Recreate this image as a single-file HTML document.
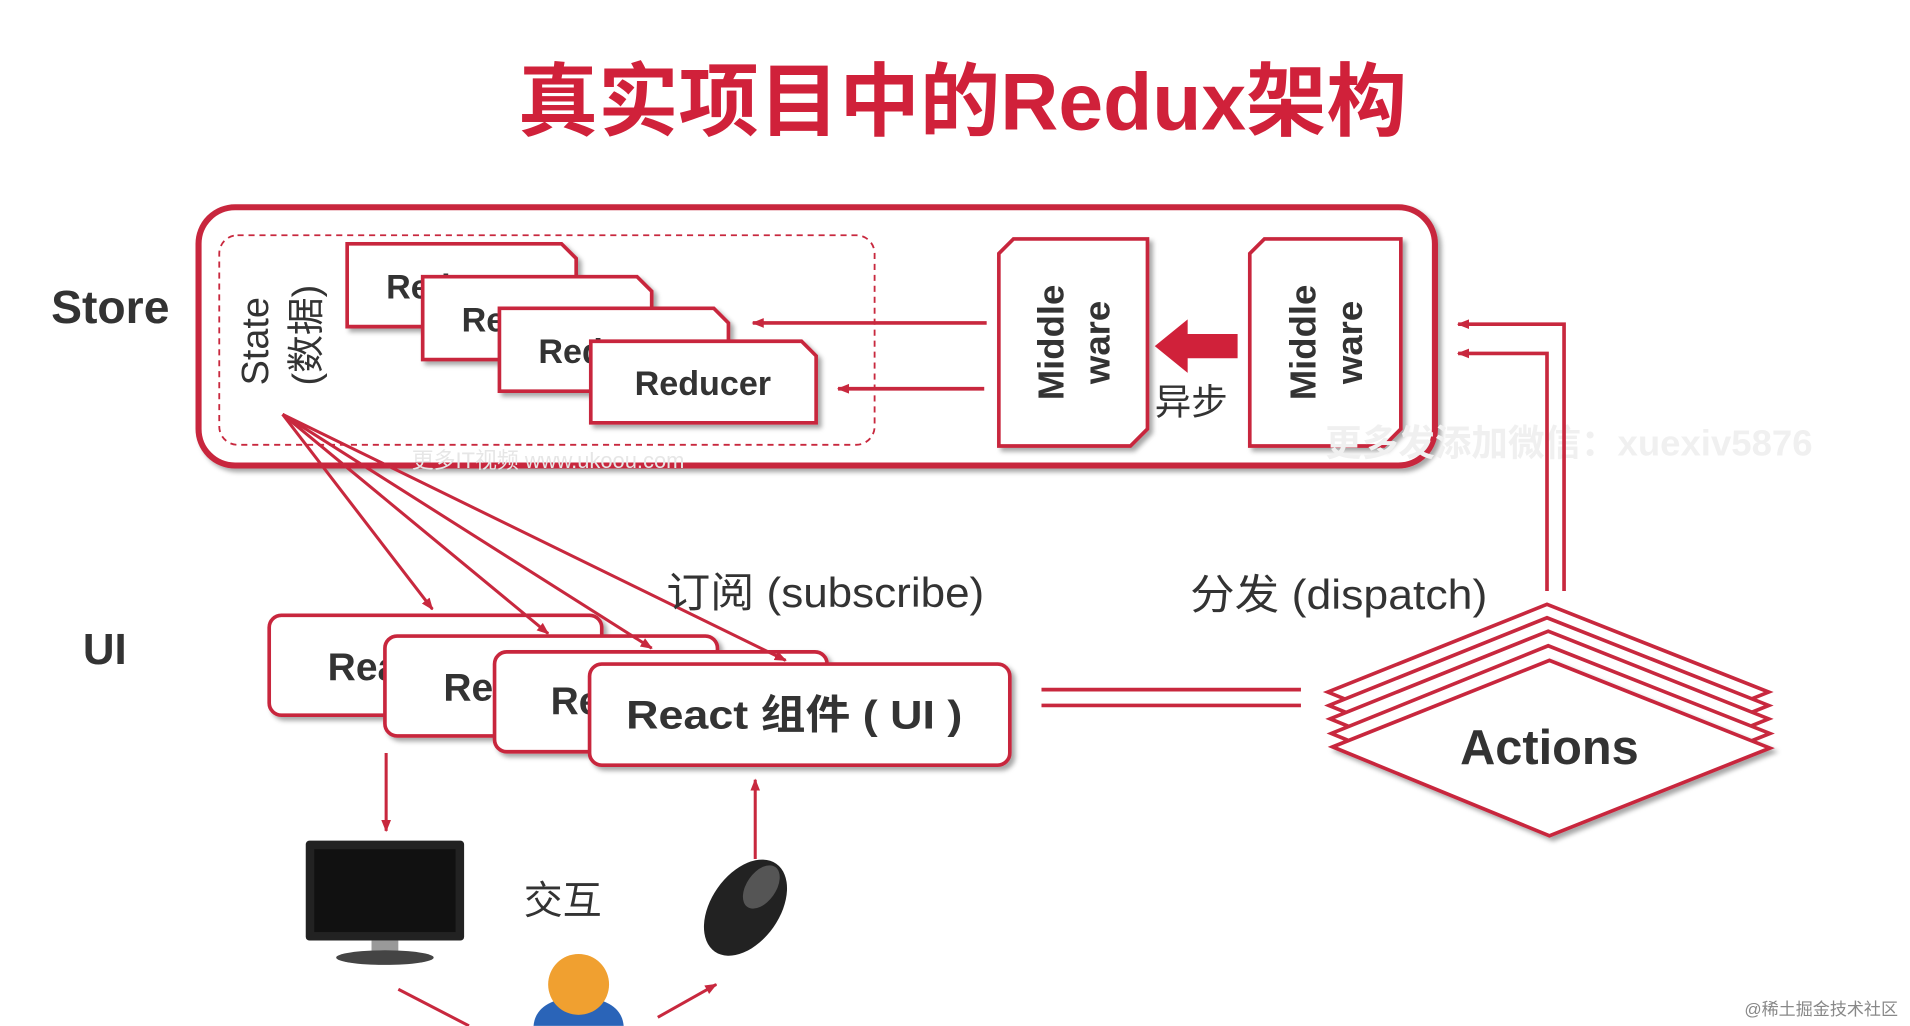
<!DOCTYPE html>
<html><head><meta charset="utf-8"><style>
html,body{margin:0;padding:0;background:#fff;}
svg{display:block}
text{font-family:"Liberation Sans","Noto Sans CJK SC",sans-serif;}
</style></head><body>
<svg width="1910" height="1026" viewBox="0 0 1568 842" xmlns="http://www.w3.org/2000/svg">
<defs>
<marker id="ah" markerWidth="10" markerHeight="10" refX="9" refY="5" orient="auto" markerUnits="userSpaceOnUse"><path d="M0,1 L10,5 L0,9 z" fill="#c8283e"/></marker>
<filter id="sh" x="-10%" y="-10%" width="130%" height="130%"><feDropShadow dx="3" dy="3" stdDeviation="2" flood-color="#000" flood-opacity="0.35"/></filter>
</defs>
<text x="790" y="106" text-anchor="middle" font-size="66" font-weight="bold" fill="#d0213a" textLength="730" lengthAdjust="spacingAndGlyphs">真实项目中的Redux架构</text>

<text x="42" y="265" font-size="38" font-weight="bold" fill="#333">Store</text>
<rect x="163" y="170" width="1015" height="212" rx="30" fill="#fff" stroke="#c8283e" stroke-width="5" filter="url(#sh)"/>
<rect x="180" y="193" width="538" height="172" rx="15" fill="none" stroke="#c8283e" stroke-width="1.5" stroke-dasharray="5,4"/>
<text transform="translate(220,280) rotate(-90)" text-anchor="middle" font-size="31" fill="#333">State</text>
<text transform="translate(262,275) rotate(-90)" text-anchor="middle" font-size="31" fill="#333">(数据)</text>

<path d="M285,200 H461 L473,212 V268 H285 Z" stroke="#c8283e" stroke-width="3" fill="#fff" filter="url(#sh)"/>
<text x="317" y="245" font-size="28" font-weight="bold" fill="#333">Reducer</text>
<path d="M347,227 H523 L535,239 V295 H347 Z" stroke="#c8283e" stroke-width="3" fill="#fff" filter="url(#sh)"/>
<text x="379" y="272" font-size="28" font-weight="bold" fill="#333">Reducer</text>
<path d="M410,253 H586 L598,265 V321 H410 Z" stroke="#c8283e" stroke-width="3" fill="#fff" filter="url(#sh)"/>
<text x="442" y="298" font-size="28" font-weight="bold" fill="#333">Reducer</text>
<path d="M485,280 H658 L670,292 V347 H485 Z" stroke="#c8283e" stroke-width="3" fill="#fff" filter="url(#sh)"/>
<text x="577" y="324" text-anchor="middle" font-size="28" font-weight="bold" fill="#333">Reducer</text>

<line x1="810" y1="265" x2="618" y2="265" stroke="#c8283e" stroke-width="3" marker-end="url(#ah)"/>
<line x1="808" y1="319" x2="688" y2="319" stroke="#c8283e" stroke-width="3" marker-end="url(#ah)"/>

<path d="M832,196 H942 V352 L928,366 H820 V208 Z" stroke="#c8283e" stroke-width="3" fill="#fff" filter="url(#sh)"/>
<text transform="translate(873,281) rotate(-90)" text-anchor="middle" font-size="30" font-weight="bold" fill="#333">Middle</text>
<text transform="translate(911,281) rotate(-90)" text-anchor="middle" font-size="30" font-weight="bold" fill="#333">ware</text>
<path d="M1038,196 H1150 V352 L1136,366 H1026 V208 Z" stroke="#c8283e" stroke-width="3" fill="#fff" filter="url(#sh)"/>
<text transform="translate(1080,281) rotate(-90)" text-anchor="middle" font-size="30" font-weight="bold" fill="#333">Middle</text>
<text transform="translate(1118,281) rotate(-90)" text-anchor="middle" font-size="30" font-weight="bold" fill="#333">ware</text>
<path d="M1016,274 H975 V262 L948,284 L975,306 V294 H1016 Z" fill="#d0213a"/>
<text x="948" y="340" font-size="30" fill="#333">异步</text>
<text x="1088" y="374" font-size="30" font-weight="bold" fill="#f0f0f0">更多发添加微信：xuexiv5876</text>
<text x="338" y="384" font-size="18" fill="#e6e6e6">更多IT视频 www.ukoou.com</text>

<polyline points="1270,485 1270,290 1197,290" fill="none" stroke="#c8283e" stroke-width="3" marker-end="url(#ah)"/>
<polyline points="1284,485 1284,266 1197,266" fill="none" stroke="#c8283e" stroke-width="3" marker-end="url(#ah)"/>

<text x="68" y="545" font-size="36" font-weight="bold" fill="#333">UI</text>
<rect x="221" y="505" width="273" height="82" rx="10" fill="#fff" stroke="#c8283e" stroke-width="3" filter="url(#sh)"/>
<text x="269" y="558" font-size="32" font-weight="bold" fill="#333">React 组件（UI）</text>
<rect x="316" y="522" width="273" height="82" rx="10" fill="#fff" stroke="#c8283e" stroke-width="3" filter="url(#sh)"/>
<text x="364" y="575" font-size="32" font-weight="bold" fill="#333">React 组件（UI）</text>
<rect x="406" y="535" width="273" height="82" rx="10" fill="#fff" stroke="#c8283e" stroke-width="3" filter="url(#sh)"/>
<text x="452" y="586" font-size="32" font-weight="bold" fill="#333">React 组件（UI）</text>
<rect x="484" y="545" width="345" height="83" rx="10" fill="#fff" stroke="#c8283e" stroke-width="3" filter="url(#sh)"/>
<text x="514" y="598" font-size="33" font-weight="bold" fill="#333" textLength="276" lengthAdjust="spacingAndGlyphs">React 组件 ( UI )</text>

<g stroke="#c8283e" stroke-width="2.5" marker-end="url(#ah)">
<line x1="232" y1="340" x2="355" y2="500"/>
<line x1="232" y1="340" x2="450" y2="520"/>
<line x1="232" y1="340" x2="535" y2="532"/>
<line x1="232" y1="340" x2="645" y2="542"/>
</g>
<text x="547" y="498" font-size="34" fill="#333" textLength="261" lengthAdjust="spacingAndGlyphs">订阅 (subscribe)</text>
<line x1="855" y1="566" x2="1068" y2="566" stroke="#c8283e" stroke-width="3"/>
<line x1="855" y1="579" x2="1068" y2="579" stroke="#c8283e" stroke-width="3"/>
<text x="977" y="500" font-size="34" fill="#333" textLength="244" lengthAdjust="spacingAndGlyphs">分发 (dispatch)</text>

<g stroke="#c8283e" stroke-width="3" fill="#fff">
<polygon points="1090,568 1270,496 1452,568 1270,641"/>
<polygon points="1091,579 1270,507 1452,579 1270,652"/>
<polygon points="1092,590 1271,518 1452,590 1271,663"/>
<polygon points="1093,602 1271,530 1453,602 1271,675"/>
<polygon points="1094,613 1272,542 1453,614 1272,686" filter="url(#sh)"/>
</g>
<text x="1272" y="627" text-anchor="middle" font-size="40" font-weight="bold" fill="#333">Actions</text>

<line x1="317" y1="618" x2="317" y2="682" stroke="#c8283e" stroke-width="2.5" marker-end="url(#ah)"/>
<rect x="251" y="690" width="130" height="82" rx="3" fill="#222"/>
<rect x="258" y="697" width="116" height="68" fill="#111"/>
<rect x="305" y="772" width="22" height="10" fill="#999"/>
<ellipse cx="316" cy="786" rx="40" ry="6" fill="#444"/>
<ellipse cx="612" cy="745" rx="28" ry="44" transform="rotate(35 612 745)" fill="#222"/>
<ellipse cx="625" cy="728" rx="12" ry="20" transform="rotate(35 625 728)" fill="#555"/>
<line x1="620" y1="705" x2="620" y2="640" stroke="#c8283e" stroke-width="2.5" marker-end="url(#ah)"/>
<text x="430" y="750" font-size="32" fill="#333">交互</text>
<path d="M438,842 Q440,820 475,818 Q510,820 512,842 Z" fill="#2a64b8"/>
<circle cx="475" cy="808" r="25" fill="#f0a030"/>
<line x1="327" y1="812" x2="385" y2="842" stroke="#c8283e" stroke-width="2.5"/>
<line x1="540" y1="835" x2="588" y2="808" stroke="#c8283e" stroke-width="2.5" marker-end="url(#ah)"/>
<text x="1432" y="833" font-size="14" fill="#888">@稀土掘金技术社区</text>
</svg>
</body></html>
